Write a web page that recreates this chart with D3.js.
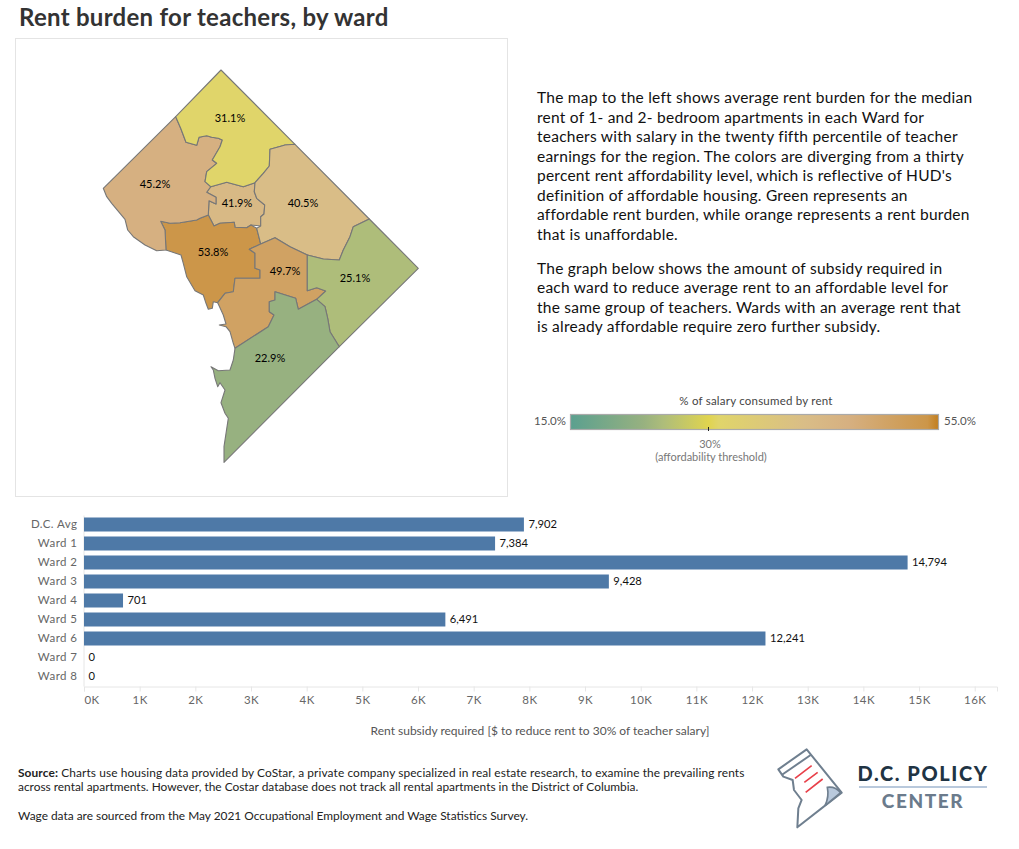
<!DOCTYPE html>
<html lang="en">
<head>
    <meta charset="UTF-8">
    <title>Rent burden for teachers, by ward</title>
    <style>
        html, body { margin: 0; padding: 0; background: #fff; }
        svg text { font-family: "Lato", "Open Sans", sans-serif; }
        .axis path, .axis line { stroke: #e6e6e6; }
        .axis text { fill: #666; font-size: 11.5px; letter-spacing: 0.45px; }
    </style>
</head>
<body>
    <div id="visualization"></div>

    <script src="https://d3js.org/d3.v7.min.js"></script>
    <script>
    // bar chart values
    const barCategories = ["D.C. Avg", "Ward 1", "Ward 2", "Ward 3", "Ward 4", "Ward 5", "Ward 6", "Ward 7", "Ward 8"];
    const barSubsidy = [7902, 7384, 14794, 9428, 701, 6491, 12241, 0, 0];
    const xTicks = [0, 1000, 2000, 3000, 4000, 5000, 6000, 7000, 8000, 9000, 10000, 11000, 12000, 13000, 14000, 15000, 16000];

    // map values
    const wardNames = ["Ward 1", "Ward 2", "Ward 3", "Ward 4", "Ward 5", "Ward 6", "Ward 7", "Ward 8"];
    const wardBurden = [41.9, 53.8, 45.2, 31.1, 40.5, 49.7, 25.1, 22.9];

    const rampStops = [15, 22.9, 25.1, 30, 31.1, 40.5, 45.2, 49.7, 53.8, 55];
    const rampColors = ["#5ba08f", "#97b180", "#aebd7a", "#e0d44f", "#e0d56a", "#d9bd87", "#d6b081", "#d0a263", "#cc9649", "#c27e1e"];

    // ward outlines (plane coordinates)
    const wardOutlines = {
        "Ward 1": [[210.7,186.7],[226.7,182.3],[243.3,186.7],[255,182.7],[254.3,191.7],[256.7,198.3],[264.7,205],[264,214],[260.7,216.7],[260.7,226],[251,225],[246.7,227.7],[235,227.3],[234.3,222.3],[220,223.3],[214,226],[208.3,215],[209,200.7],[216,204],[216,197.3],[206.7,192.3]],
        "Ward 2": [[160.7,221.3],[170,223.3],[180,222.7],[196.7,220],[200,218.3],[208.3,215],[214,226],[220,223.3],[234.3,222.3],[235,227.3],[246.7,227.7],[251,225],[256.7,228.3],[260.7,244],[249.3,249.3],[255,253.3],[255,268.3],[260,270],[260,278.3],[235,278.3],[233.3,291.7],[225,293.3],[217.7,302.7],[213.3,301.7],[212.3,308.3],[208.3,309.3],[206,303.3],[203.3,295],[195,290.7],[186.7,276.7],[183.3,263.3],[181,255],[166,250],[165,230]],
        "Ward 3": [[103.3,188.3],[175.7,116.7],[180.7,128.3],[186,142.3],[196.7,145.3],[199,137.3],[206.7,135.7],[211.7,137.3],[218.3,138.3],[222.3,140],[220,146.7],[212.3,160],[216.7,163.3],[206.7,171.7],[205,181.7],[210.7,186.7],[206.7,192.3],[216,197.3],[216,204],[209,200.7],[208.3,215],[200,218.3],[196.7,220],[180,222.7],[170,223.3],[160.7,221.3],[165,230],[166,250],[156.7,250.7],[145,245],[133.3,236.7],[127.7,230],[125,219.3],[111.7,203.3],[106.7,196.7]],
        "Ward 4": [[221,70],[295,144.3],[285,145],[281.7,146],[270,149.3],[269.3,166],[263.3,173.3],[255,182.7],[243.3,186.7],[226.7,182.3],[210.7,186.7],[205,181.7],[206.7,171.7],[216.7,163.3],[212.3,160],[220,146.7],[222.3,140],[218.3,138.3],[211.7,137.3],[206.7,135.7],[199,137.3],[196.7,145.3],[186,142.3],[180.7,128.3],[175.7,116.7]],
        "Ward 5": [[295,144.3],[369.3,219],[353.3,226.7],[350,236.7],[343.3,250],[339.3,260],[323.3,259],[307.3,255],[290,246.7],[275,237.7],[260.7,244],[256.7,228.3],[260.7,226],[260.7,216.7],[264,214],[264.7,205],[256.7,198.3],[254.3,191.7],[255,182.7],[263.3,173.3],[269.3,166],[270,149.3],[281.7,146],[285,145]],
        "Ward 6": [[260.7,244],[275,237.7],[290,246.7],[307.3,255],[307.3,290.7],[316.7,287.7],[325.7,291],[316.7,299.3],[298.3,309.3],[295.7,298.3],[275,291.7],[275,300],[269.3,301.7],[269.3,311.7],[274,315],[268.3,326.7],[235,348.3],[233.3,343.3],[230,331.7],[226,326.7],[219.3,325],[226,324],[223.3,315],[217.7,302.7],[225,293.3],[233.3,291.7],[235,278.3],[260,278.3],[260,270],[255,268.3],[255,253.3],[249.3,249.3]],
        "Ward 7": [[369.3,219],[418.3,268.3],[339.3,346.7],[330,331.7],[327.7,318.3],[325,306.7],[316.7,299.3],[325.7,291],[316.7,287.7],[307.3,290.7],[307.3,255],[323.3,259],[339.3,260],[343.3,250],[350,236.7],[353.3,226.7]],
        "Ward 8": [[235,348.3],[268.3,326.7],[274,315],[269.3,311.7],[269.3,301.7],[275,300],[275,291.7],[295.7,298.3],[298.3,309.3],[316.7,299.3],[325,306.7],[327.7,318.3],[330,331.7],[339.3,346.7],[224,462.3],[224,446.7],[228.3,418.3],[225,413.3],[221,402.7],[225,390],[220,382.7],[217.7,386.7],[215,378.3],[213.3,370],[211,366.7],[218.3,370.7],[230,370],[233.3,360]]
    };
    // where each ward's label sits
    const wardLabelAt = {
        "Ward 1": [237, 203], "Ward 2": [213, 252], "Ward 3": [155, 184], "Ward 4": [230, 118],
        "Ward 5": [303, 203], "Ward 6": [285, 271], "Ward 7": [355, 278], "Ward 8": [270, 358]
    };

    const paragraphOne = [
        "The map to the left shows average rent burden for the median",
        "rent of 1- and 2- bedroom apartments in each Ward for",
        "teachers with salary in the twenty fifth percentile of teacher",
        "earnings for the region. The colors are diverging from a thirty",
        "percent rent affordability level, which is reflective of HUD's",
        "definition of affordable housing. Green represents an",
        "affordable rent burden, while orange represents a rent burden",
        "that is unaffordable."
    ];
    const paragraphTwo = [
        "The graph below shows the amount of subsidy required in",
        "each ward to reduce average rent to an affordable level for",
        "the same group of teachers. Wards with an average rent that",
        "is already affordable require zero further subsidy."
    ];

    const svg = d3.select("#visualization").append("svg")
        .attr("width", 1019).attr("height", 849)
        .style("display", "block");

    svg.append("text").attr("x", 19).attr("y", 26)
        .attr("font-size", 24).attr("font-weight", 700).attr("letter-spacing", 0.28).attr("fill", "#333")
        .text("Rent burden for teachers, by ward");

    // Map
    svg.append("rect").attr("x", 15.5).attr("y", 38.5).attr("width", 492).attr("height", 458)
        .attr("fill", "none").attr("stroke", "#e4e4e4");

    const color = d3.scaleLinear().domain(rampStops).range(rampColors);
    const path = d3.geoPath(d3.geoIdentity());
    const wardFeatures = wardNames.map((name, i) => ({
        type: "Feature",
        properties: { name, burden: wardBurden[i] },
        geometry: { type: "Polygon", coordinates: [[...wardOutlines[name], wardOutlines[name][0]]] }
    }));

    svg.append("g").selectAll("path")
        .data(wardFeatures)
        .enter()
        .append("path")
            .attr("d", path)
            .attr("fill", d => color(d.properties.burden))
            .attr("stroke", "#777")
            .attr("stroke-width", 1.1)
            .attr("stroke-linejoin", "round");

    svg.append("g").selectAll("text")
        .data(wardFeatures)
        .enter()
        .append("text")
            .attr("x", d => wardLabelAt[d.properties.name][0])
            .attr("y", d => wardLabelAt[d.properties.name][1])
            .attr("dy", "0.35em")
            .attr("text-anchor", "middle")
            .attr("font-size", 11)
            .attr("fill", "#000")
            .text(d => d.properties.burden.toFixed(1) + "%");

    // Text block
    svg.append("g").selectAll("text").data(paragraphOne).enter().append("text")
        .attr("x", 537).attr("y", (d, i) => 103 + i * 19.5)
        .attr("font-size", 15.5).attr("letter-spacing", 0.24).attr("fill", "#111").text(d => d);
    svg.append("g").selectAll("text").data(paragraphTwo).enter().append("text")
        .attr("x", 537).attr("y", (d, i) => 274 + i * 19.4)
        .attr("font-size", 15.5).attr("letter-spacing", 0.24).attr("fill", "#111").text(d => d);

    // Legend
    const legendX = d3.scaleLinear().domain([15, 55]).range([570.5, 938.5]);
    const defs = svg.append("defs");
    const gradient = defs.append("linearGradient").attr("id", "burden-ramp");
    gradient.selectAll("stop").data(rampStops).enter().append("stop")
        .attr("offset", d => (d - 15) / 40)
        .attr("stop-color", d => color(d));
    svg.append("rect").attr("x", legendX(15)).attr("y", 414.5)
        .attr("width", legendX(55) - legendX(15)).attr("height", 15)
        .attr("fill", "url(#burden-ramp)").attr("stroke", "#aaa").attr("stroke-width", 1.2);
    svg.append("line").attr("x1", legendX(30)).attr("x2", legendX(30)).attr("y1", 427).attr("y2", 431).attr("stroke", "#222");
    svg.append("text").attr("x", 756).attr("y", 405).attr("text-anchor", "middle")
        .attr("font-size", 11.5).attr("letter-spacing", 0.22).attr("fill", "#444").text("% of salary consumed by rent");
    svg.append("text").attr("x", 566).attr("y", 425).attr("text-anchor", "end")
        .attr("font-size", 11.5).attr("fill", "#555").text("15.0%");
    svg.append("text").attr("x", 944).attr("y", 425)
        .attr("font-size", 11.5).attr("fill", "#555").text("55.0%");
    svg.append("text").attr("x", 710).attr("y", 448).attr("text-anchor", "middle")
        .attr("font-size", 11).attr("fill", "#777").text("30%");
    svg.append("text").attr("x", 711).attr("y", 461).attr("text-anchor", "middle")
        .attr("font-size", 11).attr("fill", "#777").text("(affordability threshold)");

    // Bars
    const x = d3.scaleLinear().domain([0, 16400]).range([84, 997]);
    const y = d3.scaleBand().domain(barCategories).range([515, 686]).paddingInner(5 / 19).paddingOuter(2.5 / 19);

    const xAxis = svg.append("g")
        .attr("class", "axis")
        .attr("transform", "translate(0,686.5)")
        .call(d3.axisBottom(x).tickValues(xTicks).tickSizeOuter(0).tickSize(5).tickPadding(4).tickFormat(d => `${d / 1000}K`));
    xAxis.selectAll("text").filter(d => d === 0).attr("text-anchor", "start").attr("dx", 0);

    svg.append("g")
        .attr("class", "axis")
        .attr("transform", "translate(83.5,0)")
        .call(d3.axisLeft(y).tickSize(0).tickPadding(6));

    svg.append("g").selectAll("rect")
        .data(barSubsidy)
        .enter()
        .append("rect")
            .attr("x", x(0))
            .attr("y", (d, i) => y(barCategories[i]))
            .attr("width", d => x(d) - x(0))
            .attr("height", y.bandwidth())
            .attr("fill", "#4e79a7");

    svg.append("g").selectAll("text")
        .data(barSubsidy)
        .enter()
        .append("text")
            .attr("x", d => x(d) + 4.5)
            .attr("y", (d, i) => y(barCategories[i]) + y.bandwidth() / 2)
            .attr("dy", "0.35em")
            .attr("font-size", 11.2)
            .attr("fill", "#111")
            .text(d => d3.format(",")(d));

    svg.append("text").attr("x", 540).attr("y", 735).attr("text-anchor", "middle")
        .attr("font-size", 12).attr("fill", "#555")
        .text("Rent subsidy required [$ to reduce rent to 30% of teacher salary]");

    // Source note
    const source = svg.append("g").attr("font-size", 11.9).attr("fill", "#222");
    const firstLine = source.append("text").attr("x", 18).attr("y", 777).attr("letter-spacing", 0.1);
    firstLine.append("tspan").attr("font-weight", 700).text("Source:");
    firstLine.append("tspan").text(" Charts use housing data provided by CoStar, a private company specialized in real estate research, to examine the prevailing rents");
    source.append("text").attr("x", 18).attr("y", 791)
        .text("across rental apartments. However, the Costar database does not track all rental apartments in the District of Columbia.");
    source.append("text").attr("x", 18).attr("y", 820)
        .text("Wage data are sourced from the May 2021 Occupational Employment and Wage Statistics Survey.");

    // Logo
    const logo = svg.append("g").attr("transform", "translate(770,740) scale(0.3333)");
    logo.append("path")
        .attr("d", "M25,88 L110,28 L215,158 L82,262 L85,205 L95,180 L72,150 L68,120 L40,110 Z")
        .attr("fill", "#fff").attr("stroke", "#6f7f8f").attr("stroke-width", 6).attr("stroke-linejoin", "round");
    logo.append("path").attr("d", "M35,105 L122,45").attr("stroke", "#6f7f8f").attr("stroke-width", 6);
    logo.append("path").attr("d", "M172,142 Q195,138 212,158 L165,197 Q178,170 172,142 Z")
        .attr("fill", "#b9c9dc").attr("stroke", "#6f7f8f").attr("stroke-width", 5);
    logo.append("path")
        .attr("d", "M75,115 L125,77 M103,127 L143,97 M107,157 L158,117")
        .attr("stroke", "#e8404a").attr("stroke-width", 5).attr("fill", "none");
    svg.append("text").attr("x", 923).attr("y", 781).attr("text-anchor", "middle")
        .attr("font-size", 20).attr("font-weight", 900).attr("letter-spacing", 1.6).attr("fill", "#1f3444").text("D.C. POLICY");
    svg.append("rect").attr("x", 859).attr("y", 786).attr("width", 128).attr("height", 2).attr("fill", "#b9c9dc");
    svg.append("text").attr("x", 923).attr("y", 808).attr("text-anchor", "middle")
        .attr("font-size", 19).attr("font-weight", 900).attr("letter-spacing", 1.6).attr("fill", "#6b7b8c").text("CENTER");
    </script>
</body>
</html>
